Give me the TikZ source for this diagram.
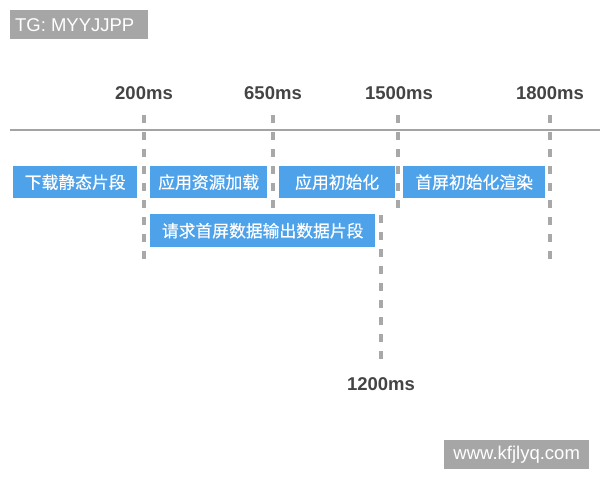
\documentclass[tikz,border=0pt]{standalone}
\usepackage{fontspec}
\setmainfont{Liberation Sans}
\newfontfamily\cjk[FakeBold=0.5]{Noto Sans CJK SC}
\definecolor{barblue}{HTML}{4DA2EA}
\definecolor{tick}{HTML}{A8A8A8}
\definecolor{axisgray}{HTML}{A3A3A3}
\definecolor{labelgray}{HTML}{444444}
\definecolor{tagbg}{HTML}{A6A6A6}
\begin{document}
\begin{tikzpicture}[x=1pt,y=-1pt,
  bar/.style={fill=barblue,text=white,inner sep=0pt,anchor=north west,font=\cjk\fontsize{16.8}{19}\selectfont},
  timelabel/.style={text=labelgray,font=\bfseries\fontsize{18.5}{20}\selectfont,inner sep=0pt},
  tag/.style={fill=tagbg,text=white,inner sep=0pt,anchor=north west,font=\fontsize{18.5}{20}\selectfont},
  dashline/.style={draw=tick,line width=3.5pt,dash pattern=on 8pt off 9pt}]
\useasboundingbox (0,0) rectangle (600,480);
\fill[white] (0,0) rectangle (600,480);
% tags
\node[tag,minimum width=138pt,minimum height=29pt] (tg) at (10,10) {TG: MYYJJPP\hspace*{9pt}};
\node[tag,minimum width=145pt,minimum height=29pt] (wm) at (444,440) {www.kfjlyq.com};
% axis
\coordinate (axl) at (10,130);
\coordinate (axr) at (600,130);
\draw[axisgray,line width=2pt] (axl) -- (axr);
% time labels
\node[timelabel] (t200) at (144,93) {200ms};
\node[timelabel] (t650) at (273,93) {650ms};
\node[timelabel] (t1500) at (399,93) {1500ms};
\node[timelabel] (t1800) at (550,93) {1800ms};
\node[timelabel] (t1200) at (381,384) {1200ms};
% dashed ticks
\coordinate (d200a) at (144,115); \coordinate (d200b) at (144,262);
\coordinate (d650a) at (273,115); \coordinate (d650b) at (273,208);
\coordinate (d1500a) at (398,115); \coordinate (d1500b) at (398,208);
\coordinate (d1800a) at (550,115); \coordinate (d1800b) at (550,262);
\coordinate (d1200a) at (381,215); \coordinate (d1200b) at (381,360);
\draw[dashline] (d200a) -- (d200b);
\draw[dashline] (d650a) -- (d650b);
\draw[dashline] (d1500a) -- (d1500b);
\draw[dashline] (d1800a) -- (d1800b);
\draw[dashline] (d1200a) -- (d1200b);
% bars
\node[bar,minimum width=124pt,minimum height=32pt] (b1) at (13,166) {下载静态片段};
\node[bar,minimum width=117pt,minimum height=32pt] (b2) at (150,166) {应用资源加载};
\node[bar,minimum width=116pt,minimum height=32pt] (b3) at (279,166) {应用初始化};
\node[bar,minimum width=142pt,minimum height=32pt] (b4) at (403,166) {首屏初始化渲染};
\node[bar,minimum width=225pt,minimum height=33pt] (b5) at (150,214) {请求首屏数据输出数据片段};
\end{tikzpicture}
\end{document}
